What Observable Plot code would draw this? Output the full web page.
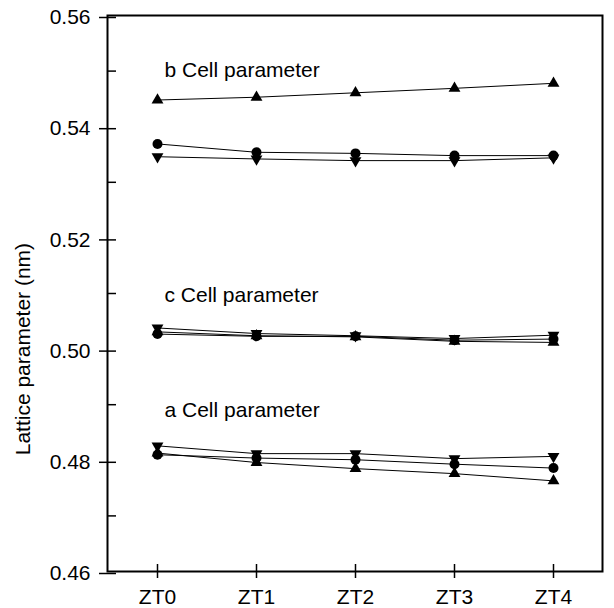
<!DOCTYPE html>
<html>
<head>
<meta charset="utf-8">
<script src="https://cdn.jsdelivr.net/npm/d3@7"></script>
<script src="https://cdn.jsdelivr.net/npm/@observablehq/plot@0.6"></script>
<style>
  html, body { margin: 0; padding: 0; background: #fff; }
  #chart svg { display: block; }
</style>
</head>
<body>
<div id="chart"></div>
<script>
// Categories (time points)
const zt = ["ZT0", "ZT1", "ZT2", "ZT3", "ZT4"];

// b cell parameter (nm)
const bUp     = [0.5448, 0.5453, 0.5461, 0.5469, 0.5478];
const bCircle = [0.5369, 0.5354, 0.5352, 0.5348, 0.5348];
const bDown   = [0.5346, 0.5342, 0.5339, 0.5339, 0.5344];

// c cell parameter (nm)
const cUp     = [0.5031, 0.5024, 0.5022, 0.5014, 0.5012];
const cCircle = [0.5027, 0.5023, 0.5023, 0.5016, 0.5018];
const cDown   = [0.5038, 0.5028, 0.5024, 0.5019, 0.5025];

// a cell parameter (nm)
const aUp     = [0.4813, 0.4796, 0.4785, 0.4776, 0.4763];
const aCircle = [0.4810, 0.4804, 0.4801, 0.4793, 0.4786];
const aDown   = [0.4826, 0.4812, 0.4812, 0.4803, 0.4807];

// Tick values
const majorTicks = [0.46, 0.48, 0.50, 0.52, 0.54, 0.56];
const minorTicks = [0.47, 0.49, 0.51, 0.53, 0.55];

// Group labels: text, anchor category, baseline value
const groupLabels = [
  {text: "b Cell parameter", x: "ZT0", y: 0.5489},
  {text: "c Cell parameter", x: "ZT0", y: 0.5084},
  {text: "a Cell parameter", x: "ZT0", y: 0.4878}
];
const yTitle = "Lattice parameter (nm)";

const seriesDefs = [
  {param: "b", marker: "up", values: bUp},
  {param: "b", marker: "circle", values: bCircle},
  {param: "b", marker: "down", values: bDown},
  {param: "c", marker: "up", values: cUp},
  {param: "c", marker: "circle", values: cCircle},
  {param: "c", marker: "down", values: cDown},
  {param: "a", marker: "up", values: aUp},
  {param: "a", marker: "circle", values: aCircle},
  {param: "a", marker: "down", values: aDown}
];
const rows = seriesDefs.flatMap(s => s.values.map((v, i) => ({
  zt: zt[i], value: v, key: s.param + "-" + s.marker, marker: s.marker
})));

const font = "'Liberation Sans', Arial, Helvetica, sans-serif";

const chart = Plot.plot({
  width: 614,
  height: 608,
  marginLeft: 107,
  marginRight: 12,
  marginTop: 15,
  marginBottom: 37,
  style: {fontFamily: font, fontSize: "21px", color: "black", background: "white"},
  x: {type: "point", domain: zt, padding: 0.5},
  y: {domain: [0.46, 0.56]},
  marks: [
    Plot.axisY({ticks: majorTicks, tickFormat: d3.format(".2f"), tickSize: 17, insetLeft: 9,
      tickPadding: 9, strokeWidth: 1.5, label: null, fontSize: 21, dy: 2}),
    Plot.axisY({ticks: minorTicks, tickSize: 9, insetLeft: 9, text: null, label: null, strokeWidth: 1.5}),
    Plot.axisX({tickSize: 14, insetBottom: 7, tickPadding: 11, strokeWidth: 1.5, label: null, fontSize: 21}),
    Plot.frame({stroke: "black", strokeWidth: 2}),
    Plot.line(rows, {x: "zt", y: "value", z: "key", stroke: "black", strokeWidth: 1}),
    Plot.dot(rows.filter(d => d.marker === "circle"), {x: "zt", y: "value", r: 5, fill: "black", stroke: "none"}),
    Plot.dot(rows.filter(d => d.marker === "up"), {x: "zt", y: "value", symbol: "triangle", r: 4.4, fill: "black", stroke: "none"}),
    Plot.dot(rows.filter(d => d.marker === "down"), {x: "zt", y: "value", symbol: "triangle", rotate: 180, r: 4.4, fill: "black", stroke: "none"}),
    Plot.text(groupLabels, {x: "x", y: "y", text: "text", textAnchor: "start", lineAnchor: "bottom",
      dx: 7, fontSize: 21, fill: "black", style: {letterSpacing: "0.6px"}}),
    Plot.text([yTitle], {y: [0.50], text: d => d, frameAnchor: "left", rotate: -90, dx: -84,
      textAnchor: "middle", lineAnchor: "middle", fontSize: 21, fill: "black"})
  ]
});

document.getElementById("chart").appendChild(chart);
</script>
</body>
</html>
